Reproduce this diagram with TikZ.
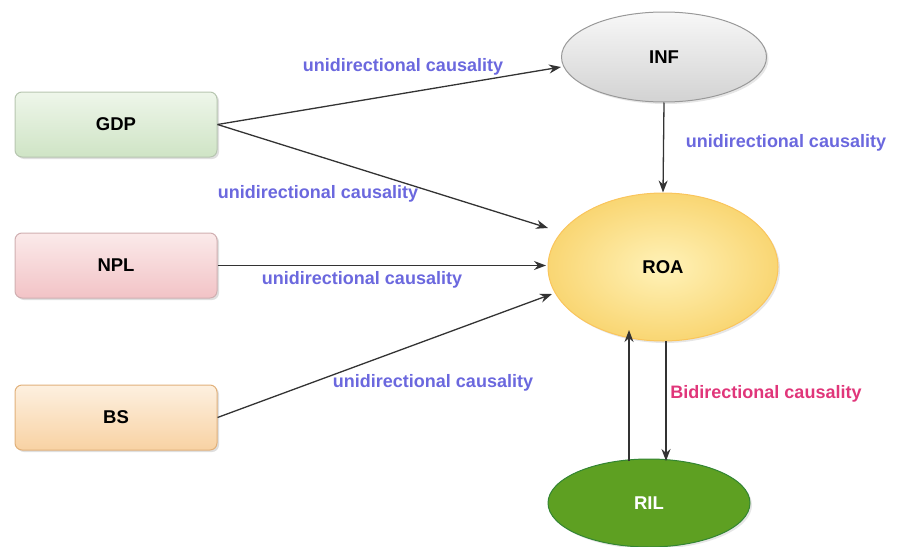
\documentclass[tikz,border=0pt]{standalone}
\usepackage{fontspec}
\setmainfont{Liberation Sans}
\usetikzlibrary{shapes.geometric,arrows.meta,shadows}
\definecolor{lbl}{HTML}{6B68DE}
\definecolor{bid}{HTML}{E0367A}
\definecolor{roain}{HTML}{FFF2B8}
\definecolor{roaout}{HTML}{F9D673}
\definecolor{gdptop}{HTML}{EEF6EA}
\definecolor{gdpbot}{HTML}{CFE4C5}
\definecolor{npltop}{HTML}{FBEAEA}
\definecolor{nplbot}{HTML}{F2C3C6}
\definecolor{bstop}{HTML}{FDF0E0}
\definecolor{bsbot}{HTML}{F8D2A3}
\tikzset{
  lab/.style={font=\fontsize{18}{20}\selectfont\bfseries, text=lbl},
  box/.style={rounded corners=7pt, minimum width=202pt, minimum height=65pt,
     font=\fontsize{18.5}{20}\selectfont\bfseries, line width=1pt,
     drop shadow={shadow xshift=2pt, shadow yshift=-2pt, opacity=0.25}},
  ell/.style={ellipse, font=\fontsize{18.5}{20}\selectfont\bfseries, line width=1pt,
     drop shadow={shadow xshift=2pt, shadow yshift=-2pt, opacity=0.2}},
  conn/.style={-{Stealth[length=12pt,width=9pt]}, line width=1.3pt, draw=black!80}
}
\begin{document}
\begin{tikzpicture}[x=1pt,y=-1pt]
\useasboundingbox (0,0) rectangle (899,546);
\node[box, draw=gdpbot!70!gray, top color=gdptop, bottom color=gdpbot] (gdp) at (116,124.5) {GDP};
\node[box, draw=nplbot!70!gray, top color=npltop, bottom color=nplbot] (npl) at (116,265.5) {NPL};
\node[box, draw=bsbot!60!brown, top color=bstop, bottom color=bsbot] (bs) at (116,417.5) {BS};
\node[ell, draw=gray!80, minimum width=205pt, minimum height=90pt, top color=gray!6, bottom color=gray!35] (inf) at (664,57) {INF};
\node[ell, draw=roaout!80!orange, minimum width=230pt, minimum height=148pt, inner color=roain, outer color=roaout] (roa) at (663,267) {ROA};
\node[ell, draw=green!40!black!80, minimum width=202pt, minimum height=88pt, fill={rgb,255:red,94;green,160;blue,34}, text=white] (ril) at (649,503) {RIL};
\coordinate (roaup) at (629,330);
\coordinate (rilup) at (629,461);
\coordinate (roadn) at (666,341);
\coordinate (rildn) at (666,461);
\coordinate (infin) at (561,67);
\coordinate (roa1) at (548,228);
\coordinate (roa2) at (546,265.5);
\coordinate (roa3) at (552,294);
\draw[conn] (gdp.east) -- (infin);
\draw[conn] (gdp.east) -- (roa1);
\draw[conn] (npl.east) -- (roa2);
\draw[conn] (bs.east) -- (roa3);
\draw[conn] (inf.south) -- (roa.north);
\draw[conn] (rilup) -- (roaup);
\draw[conn] (roadn) -- (rildn);
\node[lab] (l1) at (403,67) {unidirectional causality};
\node[lab] (l2) at (318,194) {unidirectional causality};
\node[lab] (l3) at (362,280) {unidirectional causality};
\node[lab] (l4) at (433,383) {unidirectional causality};
\node[lab] (l5) at (786,143) {unidirectional causality};
\node[lab, text=bid] (l6) at (766,394) {Bidirectional causality};
\end{tikzpicture}
\end{document}
